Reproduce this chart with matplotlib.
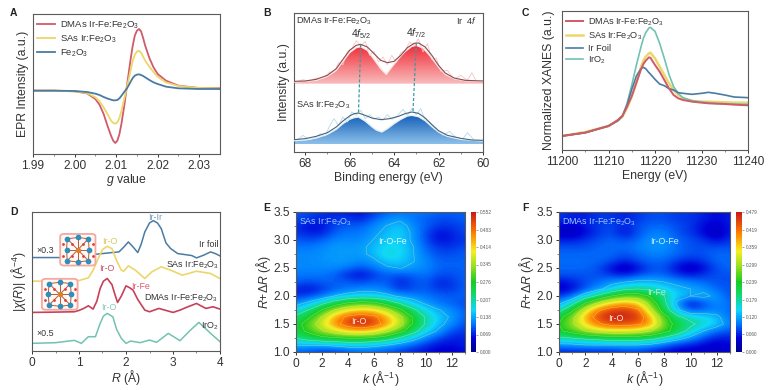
import numpy as np
from matplotlib import pyplot as plt
from matplotlib.colors import LinearSegmentedColormap
from matplotlib.patches import FancyBboxPatch

plt.rcParams['font.family'] = ['Liberation Sans', 'DejaVu Sans']
plt.rcParams['mathtext.fontset'] = 'custom'
plt.rcParams['mathtext.rm'] = 'Liberation Sans'
plt.rcParams['mathtext.it'] = 'Liberation Sans:italic'
plt.rcParams['mathtext.bf'] = 'Liberation Sans:bold'

RED = '#cf5a6a'
YELLOW = '#edd66a'
BLUE = '#4a7ba3'
TEAL = '#72c2b2'
GREY = '#5a5a5a'
TXT = '#333333'

# panel A
epr_g = [1.99, 1.995, 2.0, 2.003, 2.005, 2.006, 2.007, 2.008, 2.0088, 2.0093, 2.0098, 2.0103, 2.0108, 2.0113, 2.012,
         2.0125, 2.013, 2.0135, 2.014, 2.0145, 2.015, 2.0155, 2.016, 2.0165, 2.017, 2.018, 2.019, 2.02, 2.022, 2.025,
         2.03, 2.035]
epr_dmas = [0, 0, -0.02, -0.08, -0.25, -0.42, -0.7, -1.08, -1.36, -1.5, -1.57, -1.5, -1.3, -0.98, -0.42,
            0.05, 0.5, 0.95, 1.35, 1.65, 1.8, 1.85, 1.78, 1.58, 1.35, 0.98, 0.7, 0.5, 0.3, 0.15, 0.08, 0.08]
epr_sas = [0, 0, -0.02, -0.07, -0.2, -0.32, -0.5, -0.72, -0.9, -0.97, -0.99, -0.95, -0.82, -0.6, -0.22,
           0.05, 0.32, 0.62, 0.9, 1.08, 1.17, 1.2, 1.14, 1.02, 0.9, 0.72, 0.56, 0.42, 0.25, 0.14, 0.08, 0.07]
epr_fe = [0, 0, -0.01, -0.04, -0.09, -0.13, -0.19, -0.24, -0.27, -0.29, -0.29, -0.28, -0.23, -0.15, -0.03,
          0.05, 0.15, 0.27, 0.38, 0.45, 0.48, 0.49, 0.47, 0.44, 0.4, 0.32, 0.25, 0.2, 0.12, 0.07, 0.05, 0.05]

# panel B
xps_top_x = [68.5, 68, 67.5, 67, 66.6, 66.3, 66, 65.7, 65.5, 65.2, 64.9, 64.6, 64.3, 64, 63.7, 63.4, 63.1, 62.9,
             62.6, 62.3, 62, 61.7, 61.3, 60.8, 60]
xps_top_env = [2.12, 2.13, 2.18, 2.30, 2.50, 2.78, 3.05, 3.20, 3.23, 3.15, 2.95, 2.75, 2.68, 2.72, 2.90, 3.13, 3.26,
               3.27, 3.15, 2.90, 2.60, 2.37, 2.22, 2.15, 2.13]
xps_top_fit_x = [68.5, 67.5, 67, 66.6, 66.3, 66, 65.7, 65.5, 65.2, 64.9, 64.6, 64.35, 64.1, 63.8, 63.5, 63.2, 63,
                 62.7, 62.4, 62, 61.7, 61.3, 60.8, 60]
xps_top_fit = [2.10, 2.15, 2.27, 2.45, 2.72, 2.98, 3.13, 3.16, 3.05, 2.78, 2.50, 2.33, 2.55, 2.80, 3.02, 3.17, 3.20,
               3.12, 2.90, 2.55, 2.33, 2.20, 2.14, 2.12]
xps_top_raw_x = [68.4, 68.1, 67.8, 67.5, 67.2, 66.9, 66.7, 66.5, 66.3, 66.1, 65.9, 65.7, 65.5, 65.3, 65.1, 64.9, 64.7,
                 64.5, 64.3, 64.1, 63.9, 63.7, 63.5, 63.3, 63.1, 62.9, 62.7, 62.5, 62.3, 62.1, 61.9, 61.6, 61.3, 61,
                 60.7, 60.5, 60.3]
xps_top_raw = [2.1, 2.17, 2.12, 2.22, 2.2, 2.4, 2.38, 2.68, 2.62, 3.02, 3.1, 3.34, 3.18, 3.32, 2.9, 3.02, 2.7,
               2.85, 2.62, 2.9, 2.68, 2.98, 3.05, 3.3, 3.2, 3.4, 3.0, 3.25, 2.78, 2.82, 2.42, 2.45, 2.18, 2.3,
               2.15, 2.38, 2.12]
xps_bot_x = [68.5, 68, 67.5, 67, 66.6, 66.3, 66, 65.8, 65.6, 65.3, 65, 64.6, 64.2, 63.8, 63.5, 63.2, 62.9, 62.6, 62.3,
             62, 61.6, 61, 60.5, 60]
xps_bot_env = [0.37, 0.40, 0.47, 0.58, 0.75, 0.93, 1.08, 1.15, 1.17, 1.10, 1.02, 0.97, 1.0, 1.07, 1.15, 1.20, 1.16,
               1.02, 0.82, 0.64, 0.50, 0.41, 0.36, 0.35]
xps_bot_fit_x = [68.5, 68, 67.5, 67, 66.6, 66.3, 66, 65.8, 65.6, 65.3, 65, 64.8, 64.55, 64.3, 64, 63.7, 63.4, 63.2,
                 62.9, 62.6, 62.3, 62, 61.6, 61, 60]
xps_bot_fit = [0.34, 0.36, 0.42, 0.53, 0.68, 0.85, 0.98, 1.03, 1.05, 0.93, 0.76, 0.66, 0.60, 0.70, 0.85, 0.98, 1.08,
               1.10, 1.06, 0.94, 0.76, 0.60, 0.47, 0.38, 0.33]
xps_bot_raw_x = [68.4, 68.1, 67.8, 67.6, 67.3, 67.1, 66.9, 66.7, 66.5, 66.3, 66.1, 65.9, 65.7, 65.5, 65.3, 65.1, 64.9,
                 64.7, 64.5, 64.3, 64.1, 63.9, 63.6, 63.4, 63.2, 63, 62.8, 62.6, 62.4, 62.1, 61.8, 61.5, 61.2, 60.9,
                 60.7, 60.4]
xps_bot_raw = [0.33, 0.5, 0.36, 0.42, 0.55, 0.48, 0.78, 1.0, 0.8, 1.05, 0.9, 1.2, 1.1, 1.25, 1.0, 1.12, 0.98,
               1.05, 0.95, 1.12, 0.98, 1.05, 1.28, 1.1, 1.3, 1.12, 1.3, 0.95, 0.9, 0.7, 0.5, 0.62, 0.42, 0.4,
               0.58, 0.36]

# panel C
xanes_x = [11200, 11205, 11210, 11212, 11213, 11214, 11215, 11216, 11217, 11217.5, 11218, 11218.7, 11219, 11220, 11221,
           11222, 11223, 11224, 11225, 11226, 11228, 11230, 11231.5, 11233, 11235, 11237, 11240]
xanes_dmas = [0.42, 0.52, 0.72, 0.90, 1.03, 1.30, 1.62, 2.02, 2.42, 2.58, 2.68, 2.78, 2.77, 2.55, 2.35,
              2.10, 1.85, 1.65, 1.55, 1.50, 1.45, 1.42, 1.40, 1.39, 1.38, 1.36, 1.34]
xanes_sas = [0.42, 0.54, 0.72, 0.88, 1.00, 1.27, 1.60, 2.02, 2.50, 2.68, 2.80, 2.90, 2.92, 2.75, 2.50,
             2.25, 2.00, 1.80, 1.65, 1.55, 1.47, 1.45, 1.45, 1.44, 1.43, 1.42, 1.42]
xanes_foil = [0.42, 0.52, 0.72, 0.88, 1.02, 1.35, 1.82, 2.22, 2.44, 2.48, 2.44, 2.32, 2.28, 2.12, 1.98,
              1.93, 1.84, 1.80, 1.72, 1.70, 1.67, 1.70, 1.73, 1.70, 1.65, 1.59, 1.57]
xanes_iro2 = [0.42, 0.52, 0.72, 0.88, 1.02, 1.40, 1.95, 2.55, 3.10, 3.35, 3.52, 3.66, 3.68, 3.56, 3.20,
              2.75, 2.27, 1.90, 1.70, 1.57, 1.48, 1.44, 1.42, 1.40, 1.39, 1.38, 1.37]

# panel D
ft_foil_r = [0, 0.8, 1.3, 1.5, 1.7, 1.85, 1.95, 2.05, 2.15, 2.25, 2.32, 2.4, 2.5, 2.58, 2.67, 2.75, 2.85, 2.95, 3.1,
             3.4, 3.5, 3.65, 3.8, 3.9, 4]
ft_foil = [2.81, 2.81, 2.90, 2.93, 2.96, 2.98, 3.12, 3.28, 3.13, 2.96, 3.20, 3.58, 3.85, 3.92, 3.85, 3.68, 3.25, 3.08,
           2.93, 2.87, 2.80, 2.88, 2.98, 2.93, 2.86]
ft_sas_r = [0, 0.8, 1.0, 1.2, 1.3, 1.4, 1.5, 1.6, 1.7, 1.8, 1.9, 1.95, 2.05, 2.2, 2.4, 2.55, 2.75, 2.95, 3.2, 3.5,
            3.8, 4]
ft_sas = [2.10, 2.10, 2.12, 2.20, 2.43, 2.75, 3.05, 3.15, 3.08, 2.72, 2.43, 2.40, 2.56, 2.43, 2.18, 2.38, 2.53, 2.43,
          2.28, 2.40, 2.33, 2.18]
ft_dmas_r = [0, 0.5, 0.9, 1.0, 1.1, 1.2, 1.3, 1.38, 1.45, 1.52, 1.6, 1.7, 1.76, 1.82, 1.9, 2.0, 2.08, 2.15, 2.25, 2.4,
             2.5, 2.7, 3.0, 3.15, 3.3, 3.5, 3.7, 3.85, 4]
ft_dmas = [1.16, 1.17, 1.18, 1.22, 1.28, 1.36, 1.26, 1.50, 1.88, 2.10, 2.18, 2.00, 1.72, 1.46, 1.65, 1.96, 1.90, 1.83,
           1.55, 1.23, 1.18, 1.28, 1.16, 1.23, 1.32, 1.43, 1.28, 1.33, 1.26]
ft_iro2_r = [0, 0.5, 0.9, 1.05, 1.2, 1.35, 1.45, 1.52, 1.6, 1.72, 1.8, 1.9, 2.0, 2.1, 2.3, 2.5, 2.65, 2.9, 3.15, 3.35,
             3.55, 3.8, 4]
ft_iro2 = [0.23, 0.25, 0.32, 0.23, 0.43, 0.43, 0.83, 1.05, 1.13, 1.03, 0.65, 0.38, 0.23, 0.30, 0.25, 0.33, 0.26, 0.53,
           0.31, 0.60, 0.86, 0.53, 0.28]

# structure insets in panel D, as fractions of the box
ir_x = [0.20, 0.50, 0.80, 0.82, 0.80, 0.50, 0.20, 0.18]
ir_y = [0.84, 0.88, 0.84, 0.50, 0.16, 0.12, 0.16, 0.50]
o_x = [0.34, 0.66, 0.66, 0.34, 0.08, 0.92, 0.08, 0.92]
o_y = [0.68, 0.68, 0.32, 0.32, 0.68, 0.68, 0.32, 0.32]
centre_x = [0.50]
centre_y = [0.50]

# panel E
wt_k = list(range(14))
wt_r = [1.0, 1.125, 1.25, 1.375, 1.5, 1.625, 1.75, 1.875, 2.0, 2.125, 2.25, 2.375, 2.5, 2.625, 2.75, 2.875, 3.0,
        3.125, 3.25, 3.375, 3.5]
sas_wt = [
    [.10, .09, .08, .08, .09, .10, .10, .09, .08, .07, .06, .05, .05, .06],
    [.14, .14, .14, .15, .16, .16, .15, .14, .12, .10, .08, .06, .06, .07],
    [.21, .24, .26, .27, .28, .28, .27, .24, .20, .16, .12, .09, .07, .07],
    [.25, .29, .34, .38, .42, .43, .41, .36, .30, .23, .17, .13, .09, .08],
    [.25, .31, .38, .46, .52, .552, .52, .45, .37, .27, .20, .15, .12, .09],
    [.22, .27, .35, .44, .50, .52, .50, .44, .36, .27, .20, .16, .13, .10],
    [.17, .21, .28, .35, .40, .42, .41, .36, .29, .22, .17, .14, .12, .10],
    [.12, .15, .19, .24, .28, .30, .29, .25, .20, .16, .13, .11, .10, .09],
    [.08, .09, .11, .14, .16, .17, .17, .15, .13, .12, .11, .10, .10, .10],
    [.07, .06, .08, .10, .11, .12, .12, .11, .08, .09, .10, .08, .08, .10],
    [.10, .09, .10, .10, .10, .09, .10, .10, .07, .09, .10, .07, .08, .10],
    [.11, .11, .11, .10, .07, .06, .08, .10, .09, .10, .11, .09, .09, .10],
    [.12, .12, .12, .12, .11, .09, .11, .13, .14, .13, .12, .10, .10, .10],
    [.12, .12, .125, .13, .13, .12, .13, .16, .16, .14, .12, .10, .10, .10],
    [.12, .12, .125, .13, .13, .13, .15, .18, .17, .14, .11, .09, .09, .10],
    [.11, .11, .12, .13, .13, .13, .15, .17, .17, .14, .10, .08, .08, .09],
    [.10, .09, .10, .12, .12, .12, .14, .16, .165, .13, .09, .06, .07, .08],
    [.08, .07, .07, .10, .11, .11, .13, .15, .165, .13, .09, .06, .07, .09],
    [.08, .06, .06, .09, .10, .10, .12, .14, .16, .12, .10, .08, .08, .09],
    [.09, .08, .07, .08, .08, .07, .10, .12, .13, .11, .10, .09, .09, .10],
    [.10, .09, .08, .07, .07, .06, .08, .10, .11, .11, .11, .10, .10, .10],
]
sas_ticks = [0.000, 0.069, 0.138, 0.207, 0.276, 0.345, 0.414, 0.483, 0.552]

# panel F
dmas_wt = [
    [.06, .06, .06, .06, .06, .07, .07, .06, .05, .04, .04, .04, .04, .04],
    [.11, .11, .12, .12, .12, .12, .12, .11, .09, .07, .06, .05, .04, .05],
    [.17, .18, .19, .20, .21, .21, .21, .20, .17, .14, .11, .08, .06, .06],
    [.23, .26, .30, .33, .34, .34, .33, .30, .26, .21, .16, .12, .09, .08],
    [.24, .29, .36, .41, .44, .44, .43, .39, .27, .22, .19, .16, .14, .10],
    [.22, .28, .38, .45, .479, .47, .46, .37, .26, .19, .16, .15, .13, .09],
    [.16, .23, .33, .41, .45, .46, .43, .31, .21, .13, .08, .09, .10, .09],
    [.11, .16, .24, .31, .36, .38, .36, .27, .19, .11, .05, .08, .11, .09],
    [.07, .09, .15, .19, .24, .27, .27, .23, .18, .14, .12, .13, .11, .08],
    [.04, .05, .08, .11, .14, .17, .18, .17, .15, .13, .12, .11, .09, .08],
    [.05, .06, .08, .09, .11, .12, .13, .13, .12, .11, .10, .09, .08, .08],
    [.08, .08, .08, .08, .07, .06, .08, .09, .09, .07, .06, .07, .08, .08],
    [.09, .09, .09, .08, .05, .03, .05, .08, .08, .05, .03, .05, .08, .09],
    [.09, .09, .09, .09, .08, .06, .08, .09, .09, .07, .06, .07, .09, .09],
    [.09, .09, .09, .09, .09, .08, .09, .10, .10, .09, .08, .08, .09, .09],
    [.08, .08, .08, .09, .09, .09, .10, .11, .11, .09, .08, .08, .08, .08],
    [.06, .06, .07, .08, .09, .08, .09, .11, .11, .09, .08, .07, .05, .07],
    [.04, .03, .05, .07, .08, .05, .08, .10, .10, .08, .07, .05, .03, .06],
    [.05, .04, .06, .07, .08, .06, .08, .09, .09, .08, .07, .05, .04, .06],
    [.07, .06, .06, .07, .07, .06, .07, .08, .08, .07, .07, .06, .05, .06],
    [.07, .06, .06, .07, .07, .06, .07, .08, .08, .07, .07, .06, .05, .06],
]
dmas_ticks = [0.000, 0.060, 0.120, 0.179, 0.239, 0.299, 0.359, 0.419, 0.479]

WT_CMAP = LinearSegmentedColormap.from_list('wt', [
    (0.0, '#00008c'), (0.10, '#0000d8'), (0.20, '#0078ff'), (0.30, '#10d8f8'), (0.42, '#10d860'),
    (0.50, '#18cc20'), (0.62, '#a0e020'), (0.72, '#f4f020'), (0.85, '#ff8000'), (1.0, '#c81818')])

fig = plt.figure(figsize=(7.79, 3.9), dpi=100)


def px_axes(left, top, right, bottom):
    return fig.add_axes([left / 779, 1 - bottom / 390, (right - left) / 779, (bottom - top) / 390])


def style(ax, xlabel, ylabel, xpad=0, ypad=3):
    for s in ax.spines.values():
        s.set_color(GREY)
        s.set_linewidth(0.8)
    ax.tick_params(axis='both', labelsize=8.6, colors=TXT, length=2.5, width=0.7, pad=2)
    ax.tick_params(axis='both', which='minor', length=1.5, width=0.5, colors=GREY)
    ax.set_xlabel(xlabel, fontsize=8.8, color=TXT, labelpad=xpad)
    ax.set_ylabel(ylabel, fontsize=8.8, color=TXT, labelpad=ypad)


def gradient_fill(ax, x, y, base, top_col, bot_col):
    patch = ax.fill_between(x, y, base, color='none')
    cmap = LinearSegmentedColormap.from_list('g', [bot_col, top_col])
    grad = np.linspace(0, 1, 128).reshape(-1, 1)
    im = ax.imshow(grad, origin='lower', aspect='auto', cmap=cmap, zorder=1,
                   extent=[max(x), min(x), base, max(y)])
    im.set_clip_path(patch.get_paths()[0], transform=ax.transData)


def small_legend(ax, handles, labels, size):
    ax.legend(handles, labels, loc='upper left', frameon=False, fontsize=size, labelcolor=TXT,
              handlelength=1.85, labelspacing=0.2, borderaxespad=0.1, borderpad=0.35, handletextpad=0.55)


# A
ax = px_axes(33, 14, 220, 154)
l1, = ax.plot(epr_g, epr_dmas, color=RED, lw=1.3)
l2, = ax.plot(epr_g, epr_sas, color=YELLOW, lw=1.3)
l3, = ax.plot(epr_g, epr_fe, color=BLUE, lw=1.3)
ax.set_xlim(1.99, 2.035)
ax.set_ylim(-1.9, 2.3)
ax.set_xticks([1.99, 2.0, 2.01, 2.02, 2.03])
ax.set_xticklabels(['1.99', '2.00', '2.01', '2.02', '2.03'])
ax.set_xticks([1.995, 2.005, 2.015, 2.025], minor=True)
ax.set_yticks([])
style(ax, r'$\mathit{g}$ value', 'EPR Intensity (a.u.)', xpad=0)
small_legend(ax, [l1, l2, l3], [r'DMAs Ir-Fe:Fe$_2$O$_3$', r'SAs Ir:Fe$_2$O$_3$', r'Fe$_2$O$_3$'], 6.8)

# B
ax = px_axes(294, 13, 483, 152)
ax.set_xlim(68.5, 60)
ax.set_ylim(0, 4.17)
gradient_fill(ax, xps_top_fit_x, xps_top_fit, 2.05, '#f02c38', '#f9bcbc')
gradient_fill(ax, xps_bot_fit_x, xps_bot_fit, 0.23, '#1560b8', '#8cc0ea')
ax.set_xlim(68.5, 60)
ax.set_ylim(0, 4.17)
ax.plot(xps_top_raw_x, xps_top_raw, color='#f6c4c4', lw=0.6, zorder=2)
ax.plot(xps_bot_raw_x, xps_bot_raw, color='#b4d8ee', lw=0.6, zorder=2)
ax.plot(xps_top_fit_x, xps_top_fit, color='#fbe8e6', lw=1.0, zorder=3)
ax.plot(xps_bot_fit_x, xps_bot_fit, color='#e4f0fa', lw=1.0, zorder=3)
ax.plot(xps_top_x, xps_top_env, color='#8a4a50', lw=0.8, zorder=4)
ax.plot(xps_bot_x, xps_bot_env, color='#4a6478', lw=0.8, zorder=4)
ax.plot([65.5, 65.6], [3.23, 1.17], color='#3f9aa6', lw=0.9, ls=(0, (2.5, 1.5)), zorder=5)
ax.plot([63, 63.15], [3.27, 1.2], color='#3f9aa6', lw=0.9, ls=(0, (2.5, 1.5)), zorder=5)
ax.set_xticks([68, 66, 64, 62, 60])
ax.set_xticks([67, 65, 63, 61], minor=True)
ax.set_yticks([])
style(ax, 'Binding energy (eV)', 'Intensity (a.u.)', xpad=1)
ax.text(68.4, 3.95, r'DMAs Ir-Fe:Fe$_2$O$_3$', fontsize=6.6, color=TXT, ha='left', va='center')
ax.text(68.4, 1.43, r'SAs Ir:Fe$_2$O$_3$', fontsize=6.6, color=TXT, ha='left', va='center')
ax.text(60.25, 3.95, r'Ir  $\mathit{4f}$', fontsize=6.6, color=TXT, ha='right', va='center')
ax.text(65.5, 3.55, r'$\mathit{4f}_{5/2}$', fontsize=7.5, color=TXT, ha='center', va='center')
ax.text(63, 3.57, r'$\mathit{4f}_{7/2}$', fontsize=7.5, color=TXT, ha='center', va='center')

# C
ax = px_axes(562, 11, 748, 150)
l1, = ax.plot(xanes_x, xanes_sas, color=YELLOW, lw=1.8)
l2, = ax.plot(xanes_x, xanes_iro2, color=TEAL, lw=1.2)
l3, = ax.plot(xanes_x, xanes_foil, color=BLUE, lw=1.2)
l4, = ax.plot(xanes_x, xanes_dmas, color=RED, lw=1.4)
ax.set_xlim(11200, 11240)
ax.set_ylim(0, 4.17)
ax.set_xticks([11200, 11210, 11220, 11230, 11240])
ax.set_xticks([11205, 11215, 11225, 11235], minor=True)
ax.set_yticks([])
style(ax, 'Energy (eV)', 'Normalized XANES (a.u.)', xpad=1, ypad=5)
small_legend(ax, [l4, l1, l3, l2], [r'DMAs Ir-Fe:Fe$_2$O$_3$', r'SAs Ir:Fe$_2$O$_3$', 'Ir Foil', r'IrO$_2$'], 6.6)

# D
ax = px_axes(32, 212, 220, 351)
ax.plot(ft_foil_r, ft_foil, color=BLUE, lw=1.1)
ax.plot(ft_sas_r, ft_sas, color=YELLOW, lw=1.2)
ax.plot(ft_dmas_r, ft_dmas, color='#c8405a', lw=1.2)
ax.plot(ft_iro2_r, ft_iro2, color=TEAL, lw=1.1)
for x0, y0, w, h in [(0.6, 2.56, 0.75, 0.97), (0.21, 1.23, 0.76, 0.95)]:
    ax.add_patch(FancyBboxPatch((x0 + 0.04, y0 + 0.05), w - 0.08, h - 0.1, boxstyle='round,pad=0.04,rounding_size=0.08',
                                fc='#fff8f4', ec='#f4a8a0', lw=1.3, zorder=4))
    ring_x = [x0 + v * w for v in ir_x + ir_x[:1]]
    ring_y = [y0 + v * h for v in ir_y + ir_y[:1]]
    ax.plot(ring_x, ring_y, color='#b8583c', lw=0.7, zorder=5)
    for i in range(len(ir_x)):
        ax.plot([x0 + centre_x[0] * w, x0 + ir_x[i] * w], [y0 + centre_y[0] * h, y0 + ir_y[i] * h],
                color='#b8583c', lw=0.7, zorder=5)
    ax.scatter([x0 + v * w for v in o_x], [y0 + v * h for v in o_y], s=4, color='#d84030', zorder=6, lw=0)
    ax.scatter([x0 + v * w for v in ir_x], [y0 + v * h for v in ir_y], s=17, color='#2f8fb8', zorder=6, lw=0)
    ax.scatter([x0 + v * w for v in centre_x], [y0 + v * h for v in centre_y], s=15, color='#d8802a', zorder=6, lw=0)
ax.set_xlim(0, 4)
ax.set_ylim(0, 4.18)
ax.set_xticks([0, 1, 2, 3, 4])
ax.set_xticks([0.5, 1.5, 2.5, 3.5], minor=True)
ax.set_yticks([])
style(ax, r'$\mathit{R}$ (Å)', r'$|\mathit{\chi}(\mathit{R})|$ (Å$^{-4}$)', xpad=-1)
for r, y, t, c, fs, ha in [
    (2.62, 4.02, 'Ir-Ir', '#6a9cc0', 6.4, 'center'), (1.65, 3.3, 'Ir-O', '#d8c860', 6.4, 'center'),
    (1.6, 2.47, 'Ir-O', '#c85068', 6.4, 'center'), (2.3, 1.94, 'Ir-Fe', '#d86070', 6.4, 'center'),
    (1.63, 1.3, 'Ir-O', '#88c8b8', 6.4, 'center'), (0.1, 3.03, '×0.3', TXT, 6.4, 'left'),
    (0.1, 0.53, '×0.5', TXT, 6.4, 'left'), (3.97, 3.19, 'Ir foil', TXT, 6.4, 'right'),
    (3.97, 2.6, r'SAs Ir:Fe$_2$O$_3$', TXT, 6.4, 'right'), (3.97, 1.6, r'DMAs Ir-Fe:Fe$_2$O$_3$', TXT, 6.4, 'right'),
    (3.97, 0.75, r'IrO$_2$', TXT, 6.4, 'right'),
]:
    ax.text(r, y, t, color=c, fontsize=fs, ha=ha, va='center', zorder=7)


def wavelet(ax_box, cbar_box, k, r, z, ticks):
    ax = px_axes(*ax_box)
    z = np.array(z)
    im = ax.imshow(z, origin='lower', aspect='auto', cmap=WT_CMAP, vmin=0, vmax=ticks[-1], interpolation='bicubic',
                   extent=[k[0] - 0.5, k[-1] + 0.5, r[0] - 0.0625, r[-1] + 0.0625])
    ax.contour(k, r, z, levels=ticks[2:-1], colors='#e8f8b0', linewidths=0.3, alpha=0.6)
    ax.set_xlim(0, 13)
    ax.set_ylim(1, 3.5)
    ax.set_xticks([0, 2, 4, 6, 8, 10, 12])
    ax.set_xticks([1, 3, 5, 7, 9, 11, 13], minor=True)
    ax.set_yticks([1, 1.5, 2, 2.5, 3, 3.5])
    ax.set_yticklabels(['1.0', '1.5', '2.0', '2.5', '3.0', '3.5'])
    ax.set_yticks([1.25, 1.75, 2.25, 2.75, 3.25], minor=True)
    style(ax, r'$\mathit{k}$ (Å$^{-1}$)', r'$\mathit{R}$+$\Delta\mathit{R}$ (Å)', xpad=-1, ypad=0)
    cax = px_axes(*cbar_box)
    cb = fig.colorbar(im, cax=cax, ticks=ticks, format='%.3f')
    cb.outline.set_visible(False)
    cb.ax.tick_params(labelsize=3.4, length=1.5, width=0.4, colors=GREY, pad=1)
    return ax


# E
ax = wavelet((296, 212, 465, 352), (471, 212, 476, 352), wt_k, wt_r, sas_wt, sas_ticks)
ax.text(0.2, 3.33, r'SAs Ir:Fe$_2$O$_3$', color='#9cc8ff', fontsize=6.4, va='center')
ax.text(7.4, 2.97, 'Ir-O-Fe', color='#d8fbff', fontsize=6.4, ha='center', va='center')
ax.text(4.8, 1.54, 'Ir-O', color='#ffe8d8', fontsize=6.4, ha='center', va='center')

# F
ax = wavelet((559, 212, 730, 352), (736, 212, 742, 352), wt_k, wt_r, dmas_wt, dmas_ticks)
ax.text(0.2, 3.33, r'DMAs Ir-Fe:Fe$_2$O$_3$', color='#9cc8ff', fontsize=6.4, va='center')
ax.text(8, 2.97, 'Ir-O-Fe', color='#c8ecff', fontsize=6.4, ha='center', va='center')
ax.text(7.4, 2.07, 'Ir-Fe', color='#b8f0c0', fontsize=6.4, ha='center', va='center')
ax.text(4.3, 1.6, 'Ir-O', color='#ffe8d8', fontsize=6.4, ha='center', va='center')

for x, y, t in [(10, 13, 'A'), (263, 13, 'B'), (522, 13, 'C'), (10, 212, 'D'), (263, 208, 'E'), (522, 208, 'F')]:
    fig.text(x / 779, 1 - y / 390, t, fontsize=7.5, fontweight='bold', color='#222222', ha='left', va='center')

fig.savefig('out.png', dpi=100)
